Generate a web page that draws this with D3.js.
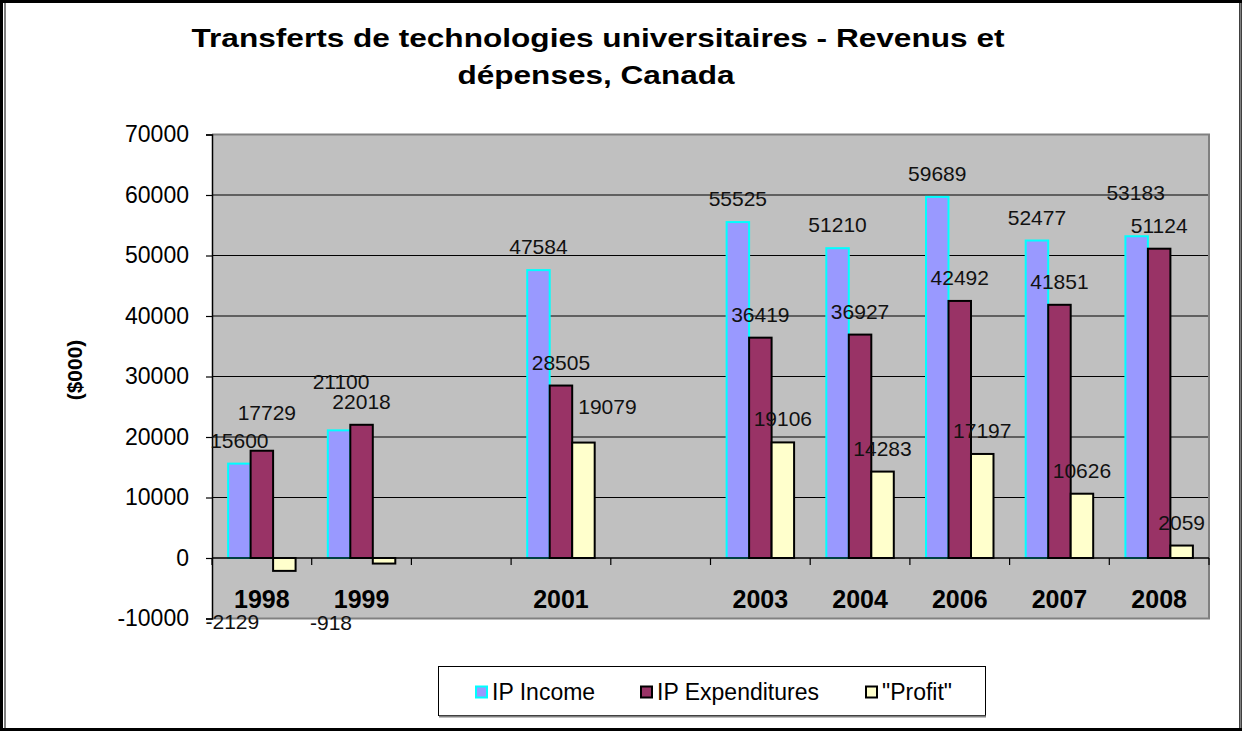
<!DOCTYPE html>
<html>
<head>
<meta charset="utf-8">
<script src="https://cdn.jsdelivr.net/npm/d3@7"></script>
<style>
  html, body { margin: 0; padding: 0; background: #fff; }
  svg { display: block; font-family: "Liberation Sans", Arial, sans-serif; }
</style>
</head>
<body>
<svg id="chart" width="1242" height="731"></svg>
<script>
// ---- data ----
const titleLines = ["Transferts de technologies universitaires - Revenus et", "dépenses, Canada"];
const categories = ["1998", "1999", "", "2001", "", "2003", "2004", "2006", "2007", "2008"];
const seriesNames = ["IP Income", "IP Expenditures", "\"Profit\""];
const ipIncome = [15600, 21100, null, 47584, null, 55525, 51210, 59689, 52477, 53183];
const ipExpenditures = [17729, 22018, null, 28505, null, 36419, 36927, 42492, 41851, 51124];
const profit = [-2129, -918, null, 19079, null, 19106, 14283, 17197, 10626, 2059];
const yTicks = [-10000, 0, 10000, 20000, 30000, 40000, 50000, 60000, 70000];
const yTitle = "($000)";

// label nudges (layout only) [dx, dy] per series per category
const labelNudge = [
  [[0,0],[2,-25],null,[0,0],null,[0,0],[0,0],[0,0],[0,0],[-1,-20]],
  [[5,-15],[0,0],null,[0,0],null,[0,0],[0,0],[0,0],[0,0],[0,0]],
  [[-52,27],[-53,35],null,[24,-13],null,[0,0],[0,0],[0,0],[0,0],[0,0]]
];

const seriesValues = [ipIncome, ipExpenditures, profit];
const fills = ["#9999FF", "#993366", "#FFFFCC"];
const strokes = ["#00FFFF", "#000000", "#000000"];

const svg = d3.select("#chart");
const W = 1242, H = 731;
const plot = {left: 212, right: 1209, top: 134.5, bottom: 618.5};

// outer frame
svg.append("rect").attr("x", 0).attr("y", 0).attr("width", W).attr("height", H).attr("fill", "#fff");
svg.append("rect").attr("x", 1.5).attr("y", 1.5).attr("width", W - 3).attr("height", H - 3)
  .attr("fill", "none").attr("stroke", "#000").attr("stroke-width", 3);
svg.append("line").attr("x1", 5).attr("x2", 5).attr("y1", 3).attr("y2", H - 3)
  .attr("stroke", "#808080").attr("stroke-width", 2);
svg.append("line").attr("x1", W - 1.5).attr("x2", W - 1.5).attr("y1", 3).attr("y2", H - 3)
  .attr("stroke", "#808080").attr("stroke-width", 2);

// title
const titleG = svg.append("g");
titleG.append("text").attr("x", 598).attr("y", 47).attr("text-anchor", "middle")
  .attr("font-size", 26).attr("font-weight", "bold").attr("fill", "#000")
  .attr("textLength", 813).attr("lengthAdjust", "spacingAndGlyphs").text(titleLines[0]);
titleG.append("text").attr("x", 596).attr("y", 84).attr("text-anchor", "middle")
  .attr("font-size", 26).attr("font-weight", "bold").attr("fill", "#000")
  .attr("textLength", 277).attr("lengthAdjust", "spacingAndGlyphs").text(titleLines[1]);

// scales
const y = d3.scaleLinear().domain([-10000, 70000]).range([plot.bottom, plot.top]);
const x0 = d3.scaleBand().domain(d3.range(categories.length)).range([plot.left, plot.right]).padding(0);
const x1 = d3.scaleBand().domain(d3.range(seriesNames.length)).range([0, x0.bandwidth()])
  .paddingInner(0).paddingOuter(0.716);

// plot background
svg.append("rect").attr("x", plot.left).attr("y", plot.top)
  .attr("width", plot.right - plot.left).attr("height", plot.bottom - plot.top)
  .attr("fill", "#C0C0C0");

// gridlines
svg.append("g").selectAll("line").data(yTicks.filter(t => t !== 0 && t !== -10000 && t !== 70000))
  .join("line")
  .attr("x1", plot.left).attr("x2", plot.right)
  .attr("y1", d => y(d)).attr("y2", d => y(d))
  .attr("stroke", "#000").attr("stroke-width", 1);

// plot border (top, right, bottom)
svg.append("path")
  .attr("d", `M${plot.left},${plot.top}H${plot.right}V${plot.bottom}H${plot.left}`)
  .attr("fill", "none").attr("stroke", "#808080").attr("stroke-width", 2);

// y axis
const yAxis = d3.axisLeft(y).tickValues(yTicks).tickSize(6).tickPadding(17).tickFormat(d => String(d));
const yAxisG = svg.append("g").attr("transform", `translate(${plot.left},0)`).call(yAxis);
yAxisG.select(".domain").attr("stroke", "#000").attr("stroke-width", 1.5);
yAxisG.selectAll(".tick line").attr("stroke", "#000").attr("stroke-width", 1.2);
yAxisG.selectAll(".tick text").attr("font-size", 23).attr("fill", "#000")
  .attr("font-family", "'Liberation Sans', Arial, sans-serif");

// y title
svg.append("text").attr("transform", "translate(82,370) rotate(-90)")
  .attr("text-anchor", "middle").attr("font-size", 21).attr("font-weight", "bold")
  .attr("fill", "#000").text(yTitle);

// bars
const barsG = svg.append("g");
seriesValues.forEach((vals, s) => {
  barsG.append("g").selectAll("rect")
    .data(vals.map((v, i) => ({v, i})).filter(d => d.v !== null))
    .join("rect")
    .attr("x", d => x0(d.i) + x1(s))
    .attr("y", d => y(Math.max(0, d.v)))
    .attr("width", x1.bandwidth())
    .attr("height", d => Math.abs(y(d.v) - y(0)))
    .attr("fill", fills[s])
    .attr("stroke", strokes[s])
    .attr("stroke-width", 2);
});

// category axis (zero line)
svg.append("line").attr("x1", plot.left).attr("x2", plot.right)
  .attr("y1", y(0)).attr("y2", y(0)).attr("stroke", "#000").attr("stroke-width", 1.5);
const bounds = d3.range(categories.length + 1).map(i => plot.left + i * x0.step());
svg.append("g").selectAll("line").data(bounds).join("line")
  .attr("x1", d => d).attr("x2", d => d)
  .attr("y1", y(0)).attr("y2", y(0) + 7)
  .attr("stroke", "#000").attr("stroke-width", 1.2);

// category labels
svg.append("g").selectAll("text").data(categories.map((c, i) => ({c, i})).filter(d => d.c !== ""))
  .join("text")
  .attr("x", d => x0(d.i) + x0.bandwidth() / 2)
  .attr("y", 608)
  .attr("text-anchor", "middle")
  .attr("font-size", 25).attr("font-weight", "bold").attr("fill", "#000")
  .text(d => d.c);

// data labels
const labelsG = svg.append("g");
seriesValues.forEach((vals, s) => {
  labelsG.append("g").selectAll("text")
    .data(vals.map((v, i) => ({v, i})).filter(d => d.v !== null))
    .join("text")
    .attr("x", d => x0(d.i) + x1(s) + x1.bandwidth() / 2 + labelNudge[s][d.i][0])
    .attr("y", d => (d.v >= 0 ? y(d.v) - 23.5 : y(d.v) + 23.5) + labelNudge[s][d.i][1])
    .attr("dy", "0.36em")
    .attr("text-anchor", "middle")
    .attr("font-size", 21).attr("fill", "#111")
    .text(d => d.v);
});

// legend
const leg = svg.append("g");
leg.append("rect").attr("x", 438.5).attr("y", 666.5).attr("width", 547).attr("height", 49)
  .attr("fill", "#fff").attr("stroke", "#000").attr("stroke-width", 1);
leg.append("line").attr("x1", 439).attr("x2", 986).attr("y1", 716.5).attr("y2", 716.5)
  .attr("stroke", "#808080").attr("stroke-width", 2);
const legX = [476, 641, 866];
seriesNames.forEach((name, s) => {
  leg.append("rect").attr("x", legX[s]).attr("y", 686.5).attr("width", 11).attr("height", 11)
    .attr("fill", fills[s]).attr("stroke", strokes[s]).attr("stroke-width", 2);
  leg.append("text").attr("x", legX[s] + 16).attr("y", 700)
    .attr("font-size", 23).attr("fill", "#000").text(name);
});
</script>
</body>
</html>
